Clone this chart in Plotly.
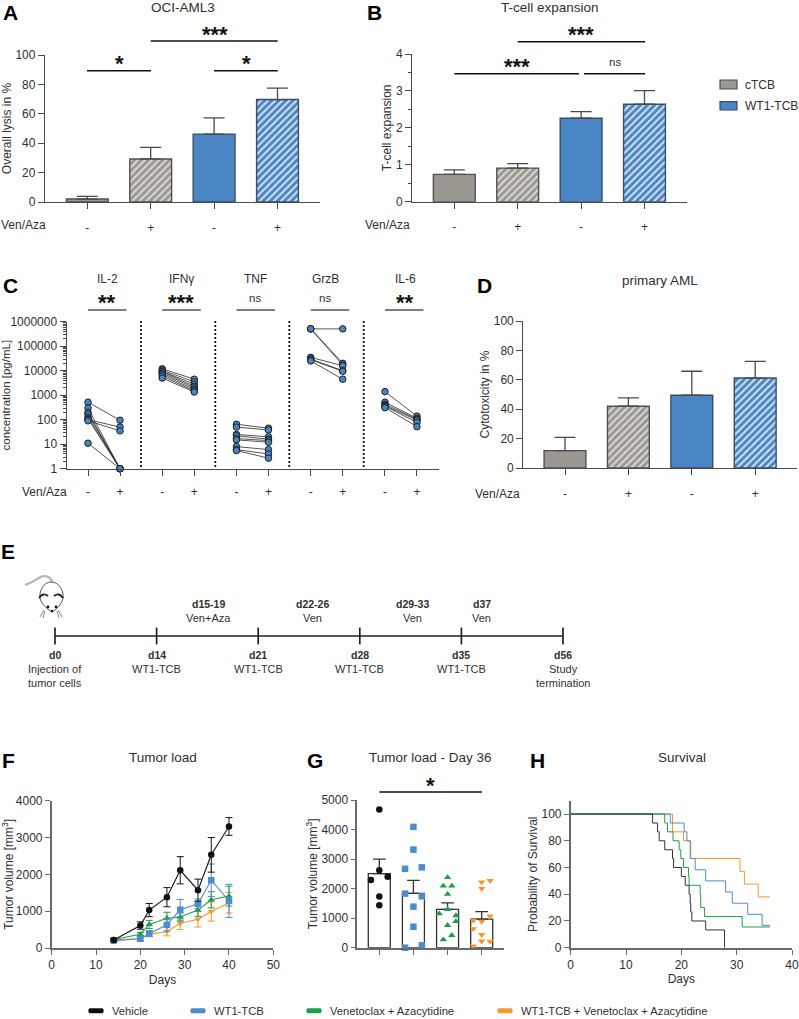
import plotly.graph_objects as go

W, H = 799, 1019
FONT = "Liberation Sans"
INK = "#303030"
AX = "#4a4a4a"
GRAY = "#9b9791"
GRAY_H = "#dcdad6"
BLUE = "#4a86c4"
BLUE_H = "#d5e3f1"
BLK = "#111111"
BL2 = "#4f8ccb"
GRN = "#1f9e4a"
ORG = "#f7962d"

# ---------------- data ----------------
SIGN_LABELS = ["-", "+", "-", "+"]
A_VALUES = [2.0, 29.3, 46.2, 69.7]
A_TOPS = [3.8, 37.2, 57.2, 77.5]
B_VALUES = [0.74, 0.91, 2.26, 2.64]
B_TOPS = [0.86, 1.03, 2.44, 3.01]
D_VALUES = [11.8, 42.0, 49.5, 61.2]
D_TOPS = [20.9, 47.7, 65.8, 72.5]

CYTOKINES = ["IL-2", "IFNγ", "TNF", "GrzB", "IL-6"]
CYTO_SIG = ["**", "***", "ns", "ns", "**"]
IL2_MINUS = [520, 300, 200, 170, 130, 110, 100, 90, 11]
IL2_PLUS = [95, 1, 1, 1, 1, 1, 50, 35, 1]
IFN_MINUS = [12000, 10500, 9500, 9000, 8000, 7000, 6000, 5000]
IFN_PLUS = [4500, 3500, 2800, 2300, 2000, 1700, 1500, 1350]
TNF_MINUS = [65, 50, 25, 22, 17, 15, 8, 6, 5.5]
TNF_PLUS = [45, 38, 20, 16, 14, 12, 6, 4, 2.7]
GRZ_MINUS = [510000, 510000, 510000, 35000, 30000, 28000, 25000]
GRZ_PLUS = [510000, 20000, 17000, 16000, 10000, 9500, 4500]
IL6_MINUS = [1400, 520, 430, 380, 350, 310]
IL6_PLUS = [140, 113, 105, 96, 78, 52]
CYTO_PAIRS = [(IL2_MINUS, IL2_PLUS), (IFN_MINUS, IFN_PLUS), (TNF_MINUS, TNF_PLUS),
              (GRZ_MINUS, GRZ_PLUS), (IL6_MINUS, IL6_PLUS)]
LOG_TICKS = [1, 10, 100, 1000, 10000, 100000, 1000000]

TL_LABELS_DAY = ["d0", "d14", "d21", "d28", "d35", "d56"]
TL_LABELS_1 = ["Injection of", "WT1-TCB", "WT1-TCB", "WT1-TCB", "WT1-TCB", "Study"]
TL_LABELS_2 = ["tumor cells", "", "", "", "", "termination"]
TL_TOP_POS = [1.51, 2.53, 3.52, 4.2]
TL_TOP_DAY = ["d15-19", "d22-26", "d29-33", "d37"]
TL_TOP_DRUG = ["Ven+Aza", "Ven", "Ven", "Ven"]

DAYS = [14, 20, 22, 26, 29, 33, 36, 40]
VEH = [220, 610, 1030, 1380, 2110, 1570, 2530, 3300]
VEH_E = [40, 100, 180, 260, 370, 300, 470, 240]
WT1 = [200, 250, 390, 630, 1040, 1200, 1840, 1280]
WT1_E = [30, 60, 80, 170, 280, 130, 440, 450]
VA = [230, 370, 640, 810, 840, 1030, 1310, 1410]
VA_E = [30, 50, 110, 160, 110, 170, 220, 270]
COMBO = [220, 250, 370, 450, 670, 780, 990, 1230]
COMBO_E = [40, 50, 60, 120, 170, 210, 260, 280]

G_MEANS = [2510, 1840, 1300, 970]
G_TOPS = [3000, 2280, 1520, 1220]
G_VEH_X = [0, 0, -0.245, 0.245, 0, 0]
G_VEH_Y = [4680, 2620, 2290, 2400, 1730, 1440]
G_WT1_X = [1, 1, 0.755, 1.245, 0.755, 1.245, 1, 1, 0.755, 1.245]
G_WT1_Y = [4090, 3320, 2670, 2720, 1830, 1740, 1390, 710, 0, 80]
G_VA_X = [2, 1.875, 2.125, 2, 1.755, 2, 2.245, 2.245, 2, 2.125, 1.875]
G_VA_Y = [2380, 2090, 2090, 1810, 1150, 1300, 1090, 890, 760, 420, 270]
G_CO_X = [3.245, 3, 3, 3.245, 2.755, 3, 2.755, 3, 3, 3.245, 2.755]
G_CO_Y = [2270, 2220, 2000, 1070, 920, 890, 640, 440, 220, 210, 50]

S_VEH_T = [0, 14.8, 15.7, 16, 17, 18.4, 18.6, 20, 20.7, 21.4, 21.6, 21.7, 21.9, 24.4, 27.8]
S_VEH_P = [100, 93.3, 86.7, 80, 73.3, 66.7, 60, 53.3, 46.7, 40, 33.3, 26.7, 20, 13.3, 0]
S_VA_T = [0, 17, 17.5, 18.5, 19.6, 19.9, 20.4, 21.3, 21.4, 23.4, 23.5, 24.2, 31, 36]
S_VA_P = [100, 93.3, 86.7, 80, 73.3, 66.7, 60, 53.3, 46.7, 40, 30, 23.3, 15.5, 15.5]
S_WT1_T = [0, 18, 20.5, 21, 21.6, 22.5, 24.4, 28, 29.2, 32, 34.6, 36]
S_WT1_P = [100, 93.3, 86.7, 80, 66.7, 58.3, 50, 41.7, 33.3, 25, 16.7, 16.7]
S_CO_T = [0, 18.4, 20.4, 21.7, 30.6, 31.4, 33.9, 36]
S_CO_P = [100, 86.7, 80, 66.7, 57.1, 47.6, 38, 38]

LEGEND_NAMES = ["Vehicle", "WT1-TCB", "Venetoclax + Azacytidine", "WT1-TCB + Venetoclax + Azacytidine"]
LEGEND_COLORS = [BLK, BL2, GRN, ORG]
LEGEND_X = [87, 189, 305, 496]

# ---------------- helpers ----------------
fig = go.Figure()
shapes, annots = [], []


def axes(n, l, r, t, b, xa, ya):
    sx = "" if n == 1 else str(n)
    base = dict(showgrid=False, zeroline=False, showline=True, linecolor=AX, linewidth=1.3,
                tickcolor=AX, tickwidth=1.3, ticks="outside", ticklen=6, automargin=False,
                tickfont=dict(family=FONT, size=12, color=INK))
    x = dict(base, domain=[l / W, r / W], anchor="y" + sx, **xa)
    y = dict(base, domain=[1 - b / H, 1 - t / H], anchor="x" + sx, **ya)
    fig.layout["xaxis" + sx] = x
    fig.layout["yaxis" + sx] = y
    return "x" + sx, "y" + sx


def T(x, y, text, size=12, anchor="center", bold=False, color=INK, xref="x9"):
    annots.append(dict(x=x, y=y, xref=xref, yref="y9", text=f"<b>{text}</b>" if bold else text,
                       showarrow=False, xanchor=anchor, yanchor="middle", borderpad=0, borderwidth=0,
                       font=dict(family=FONT, size=size, color=color)))


def L(x0, y0, x1, y1, color=BLK, width=1.4, dash=None):
    shapes.append(dict(type="line", xref="x9", yref="y9", x0=x0, y0=y0, x1=x1, y1=y1,
                       line=dict(color=color, width=width, dash=dash)))


def stars(x, y, text):
    T(x, y + 3.5, text, size=22, bold=True, color=BLK)


def title_font(sz=12):
    return dict(family=FONT, size=sz, color=INK)


def bar_panel(n, l, r, t, b, centers0, values, tops, ymax, dtick, ytitle, minor=None, standoff=6):
    unit = 63.4
    xr = [(l - centers0) / unit, (r - centers0) / unit]
    xa = dict(range=xr, tickmode="array", tickvals=[0, 1, 2, 3], ticktext=SIGN_LABELS, ticklabelstandoff=8)
    ya = dict(range=[0, ymax], dtick=dtick, title=dict(text=ytitle, standoff=standoff, font=title_font()))
    if minor:
        ya["minor"] = dict(dtick=minor, ticks="outside", ticklen=3, tickcolor=AX, tickwidth=1.2)
    xid, yid = axes(n, l, r, t, b, xa, ya)
    for i, (v, top) in enumerate(zip(values, tops)):
        col = GRAY if i < 2 else BLUE
        hatch = GRAY_H if i < 2 else BLUE_H
        mk = dict(color=col, line=dict(color="#50504e" if i < 2 else "#3a4f66", width=1.4))
        if i % 2:
            mk["pattern"] = dict(shape="/", bgcolor=col, fgcolor=hatch, size=5, solidity=0.4, fillmode="replace")
        fig.add_trace(go.Bar(x=[i], y=[v], width=0.66, marker=mk, xaxis=xid, yaxis=yid, showlegend=False,
                             error_y=dict(type="data", symmetric=False, array=[top - v], arrayminus=[0],
                                          color=AX, thickness=1.3, width=10.5)))


# ---------------- A, B, D ----------------
bar_panel(1, 45, 320, 55, 202, 87.3, A_VALUES, A_TOPS, 100, 20, "Overall lysis in %")
bar_panel(2, 412.3, 686.7, 54, 201.7, 454.3, B_VALUES, B_TOPS, 4, 1, "T-cell expansion", minor=0.5, standoff=1)
bar_panel(4, 523.3, 797, 321, 468, 565, D_VALUES, D_TOPS, 100, 20, "Cytotoxicity in %", standoff=1)

# ---------------- C ----------------
U = 32.0
GROUP_STEP = 2.32
xid, yid = axes(3, 66.7, 439.3, 321.7, 468.7,
                dict(range=[(66.7 - 88) / U, (439.3 - 88) / U], tickmode="array",
                     tickvals=[g * GROUP_STEP + k for g in range(5) for k in (0, 1)],
                     ticktext=["-", "+"] * 5, ticklabelstandoff=6),
                dict(type="log", range=[0, 6], tickmode="array", tickvals=LOG_TICKS,
                     ticktext=[str(v) for v in LOG_TICKS],
                     minor=dict(ticks="outside", ticklen=3, tickcolor=AX, tickwidth=1, dtick="D1"),
                     title=dict(text="concentration [pg/mL]", standoff=4, font=title_font(11.5))))
for g, (mi, pl) in enumerate(CYTO_PAIRS):
    xs, ys = [], []
    for a, b in zip(mi, pl):
        xs += [g * GROUP_STEP, g * GROUP_STEP + 1, None]
        ys += [a, b, None]
    fig.add_trace(go.Scatter(x=xs, y=ys, mode="lines+markers", xaxis=xid, yaxis=yid, showlegend=False,
                             cliponaxis=False, line=dict(color="#2b2b2b", width=0.8),
                             marker=dict(size=6.5, color=BLUE, line=dict(color="#1d1d1d", width=1))))
    cx = 88 + g * GROUP_STEP * U
    L(cx, 310, cx + 38.5, 310, color="#555555", width=1.6)
for cx, name, sig in zip([107, 181, 255, 325, 405], CYTOKINES, CYTO_SIG):
    T(cx, 279, name, size=12)
    if sig == "ns":
        T(cx, 298, sig, size=11.5)
    else:
        stars(cx, 299, sig)
for dx in [141, 215.3, 289.3, 363.7]:
    L(dx, 321, dx, 468, color="#111111", width=1.8, dash="2px,2px")

# ---------------- timeline ----------------
xid, yid = axes(8, 55, 563, 630, 642,
                dict(range=[0, 5], visible=False), dict(range=[0, 1], visible=False))
TL_POS = list(range(6))
fig.add_trace(go.Scatter(x=TL_POS, y=[0.5] * 6, mode="lines+markers", xaxis=xid, yaxis=yid, showlegend=False,
                         cliponaxis=False, line=dict(color="#222222", width=1.7),
                         marker=dict(symbol="line-ns", size=12, line=dict(color="#222222", width=1.7))))
for i, d, a, b in zip(TL_POS, TL_LABELS_DAY, TL_LABELS_1, TL_LABELS_2):
    T(i, 655, d, size=10.5, bold=True, xref="x8")
    T(i, 669, a, size=11, xref="x8")
    if b:
        T(i, 683, b, size=11, xref="x8")
for i, d, a in zip(TL_TOP_POS, TL_TOP_DAY, TL_TOP_DRUG):
    T(i, 604, d, size=10.5, bold=True, xref="x8")
    T(i, 618, a, size=11, xref="x8")

# mouse icon
MOUSE_PARTS = [
    ("M25,585 Q33,582 37,579 Q44,574 50,578 Q53,581 53,586", None, "#bdb7ac", 2.2),
    ("M51,582 C60,582 64,592 63,598 C62,604 57,609 52,612 C47,609 41,604 40,598 C39,592 43,582 51,582 Z", "white", "#555555", 1.0),
    ("M39,598 Q43,592 48,596", None, "#222222", 1.8),
    ("M63,598 Q59,592 54,596", None, "#222222", 1.8),
    ("M44,610 L40,617 M45,611 L43,618 M58,610 L62,617 M57,611 L59,618", None, "#666666", 0.8),
]
for path, fill, col, wd in MOUSE_PARTS:
    s = dict(type="path", xref="x9", yref="y9", path=path, line=dict(color=col, width=wd))
    if fill:
        s["fillcolor"] = fill
    shapes.append(s)
for cx, cy, r in [(48, 607, 1.4), (56, 607, 1.4), (52, 611, 1.2)]:
    shapes.append(dict(type="circle", xref="x9", yref="y9", x0=cx - r, x1=cx + r, y0=cy - r, y1=cy + r,
                       fillcolor="#111111", line=dict(width=0)))

# ---------------- F ----------------
AX2 = "#6a6a6a"
STYLE2 = dict(linecolor=AX2, tickcolor=AX2, linewidth=1.6, tickwidth=1.4, ticklen=5)
xid, yid = axes(5, 51.7, 273.3, 800.7, 948,
                dict(range=[0, 50], dtick=10, title=dict(text="Days", standoff=4, font=title_font()), **STYLE2),
                dict(range=[0, 4000], dtick=1000,
                     title=dict(text="Tumor volume [mm<sup>3</sup>]", standoff=4, font=title_font()), **STYLE2))
for yv, ev, col, sym, sz in [(COMBO, COMBO_E, ORG, "triangle-down", 6), (VA, VA_E, GRN, "triangle-up", 6.5),
                             (WT1, WT1_E, BL2, "square", 6.5), (VEH, VEH_E, BLK, "circle", 6.5)]:
    fig.add_trace(go.Scatter(x=DAYS, y=yv, mode="lines+markers", xaxis=xid, yaxis=yid, showlegend=False,
                             cliponaxis=False, line=dict(color=col, width=1.1),
                             marker=dict(symbol=sym, size=sz, color=col),
                             error_y=dict(type="data", array=ev, color=col, thickness=1, width=3.5)))

# ---------------- G ----------------
xid, yid = axes(6, 357.3, 504, 800, 947.7,
                dict(range=[(357.3 - 379.3) / 34.13, (504 - 379.3) / 34.13], tickmode="array",
                     tickvals=[0, 1, 2, 3], showticklabels=False, **STYLE2),
                dict(range=[0, 5000], dtick=1000,
                     title=dict(text="Tumor volume [mm<sup>3</sup>]", standoff=1, font=title_font()), **STYLE2))
fig.add_trace(go.Bar(x=[0, 1, 2, 3], y=G_MEANS, width=0.645, xaxis=xid, yaxis=yid, showlegend=False,
                     marker=dict(color="white", line=dict(color="#333333", width=1.3)),
                     error_y=dict(type="data", symmetric=False,
                                  array=[t - m for t, m in zip(G_TOPS, G_MEANS)], arrayminus=[0, 0, 0, 0],
                                  color="#333333", thickness=1.3, width=6.3)))
for px_, py_, col, sym in [(G_VEH_X, G_VEH_Y, BLK, "circle"), (G_WT1_X, G_WT1_Y, BL2, "square"),
                           (G_VA_X, G_VA_Y, GRN, "triangle-up"), (G_CO_X, G_CO_Y, ORG, "triangle-down")]:
    fig.add_trace(go.Scatter(x=px_, y=py_, mode="markers", xaxis=xid, yaxis=yid, showlegend=False,
                             cliponaxis=False, marker=dict(symbol=sym, size=6.5, color=col)))
L(379.3, 792, 482, 792)
stars(430.7, 782, "*")

# ---------------- H ----------------
xid, yid = axes(7, 570.7, 792, 800.7, 947.7,
                dict(range=[0, 40], dtick=10, title=dict(text="Days", standoff=4, font=title_font()), **STYLE2),
                dict(range=[0, 110], tickmode="array", tickvals=[0, 20, 40, 60, 80, 100],
                     title=dict(text="Probability of Survival", standoff=1, font=title_font()), **STYLE2))
for tt, pp, col in [(S_CO_T, S_CO_P, ORG), (S_WT1_T, S_WT1_P, BL2), (S_VA_T, S_VA_P, GRN), (S_VEH_T, S_VEH_P, "#333333")]:
    fig.add_trace(go.Scatter(x=tt, y=pp, mode="lines", xaxis=xid, yaxis=yid, showlegend=False, cliponaxis=False,
                             line=dict(color=col, width=1.0, shape="hv")))

# ---------------- overlay pixel layer ----------------
fig.layout["xaxis9"] = dict(domain=[0, 1], range=[0, W], visible=False, anchor="y9")
fig.layout["yaxis9"] = dict(domain=[0, 1], range=[H, 0], visible=False, anchor="x9")
fig.add_trace(go.Scatter(x=[0], y=[0], mode="markers", marker=dict(opacity=0), xaxis="x9", yaxis="y9",
                         showlegend=False, hoverinfo="skip"))

# brackets
L(87, 70.7, 151, 70.7); L(214, 70.7, 277.7, 70.7); L(150.7, 41, 277.7, 41)
stars(119, 60, "*"); stars(246, 60, "*"); stars(214.6, 31, "***")
L(517.7, 41.7, 645, 41.7); L(454.3, 73.7, 579, 73.7); L(584, 73.7, 645, 73.7)
stars(581, 31, "***"); stars(516.7, 63, "***"); T(615, 62, "ns", size=11.5)

# titles and letters
T(182.7, 7, "OCI-AML3", 13.5); T(550, 7, "T-cell expansion", 13.5)
T(660, 280, "primary AML", 13.5); T(163, 757, "Tumor load", 13.5)
T(430.7, 757, "Tumor load - Day 36", 13.5); T(681.7, 757, "Survival", 13.5)
for x, y, s in [(10, 12, "A"), (374, 12, "B"), (10, 285, "C"), (484, 285, "D"), (8, 551, "E"),
                (8.5, 760, "F"), (315, 760, "G"), (537, 760, "H")]:
    T(x, y, s, size=21, bold=True, color="#000000")

# Ven/Aza row labels
for x, y in [(23, 225), (387, 225), (44, 491.5), (497.7, 494)]:
    T(x, y, "Ven/Aza", 12)

# cTCB / WT1-TCB legend
for y0, y1, col, edge, name in [(80, 89, GRAY, "#50504e", "cTCB"), (101.7, 110, BLUE, "#3a4f66", "WT1-TCB")]:
    shapes.append(dict(type="rect", xref="x9", yref="y9", x0=720, x1=737, y0=y0, y1=y1, fillcolor=col,
                       line=dict(color=edge, width=1.2)))
    T(745, (y0 + y1) / 2, name, 12, anchor="left")

# footer legend
for x, name, col in zip(LEGEND_X, LEGEND_NAMES, LEGEND_COLORS):
    y = 1010.7
    shapes.append(dict(type="path", xref="x9", yref="y9", fillcolor=col, line=dict(width=0),
                       path=f"M{x+2.5},{y-2.5} L{x+15.5},{y-2.5} Q{x+18},{y} {x+15.5},{y+2.5} L{x+2.5},{y+2.5} Q{x},{y} {x+2.5},{y-2.5} Z"))
    T(x + 25, y, name, 11.2, anchor="left")

fig.update_layout(width=W, height=H, margin=dict(l=0, r=0, t=0, b=0, pad=0, autoexpand=False), autosize=False,
                  paper_bgcolor="white", plot_bgcolor="rgba(0,0,0,0)", barmode="overlay",
                  showlegend=False, shapes=shapes, annotations=annots,
                  font=dict(family=FONT, color=INK))
fig.write_html("out.html", config=dict(displayModeBar=False),
               post_script="document.body.style.margin='0';document.documentElement.style.overflow='hidden';")
